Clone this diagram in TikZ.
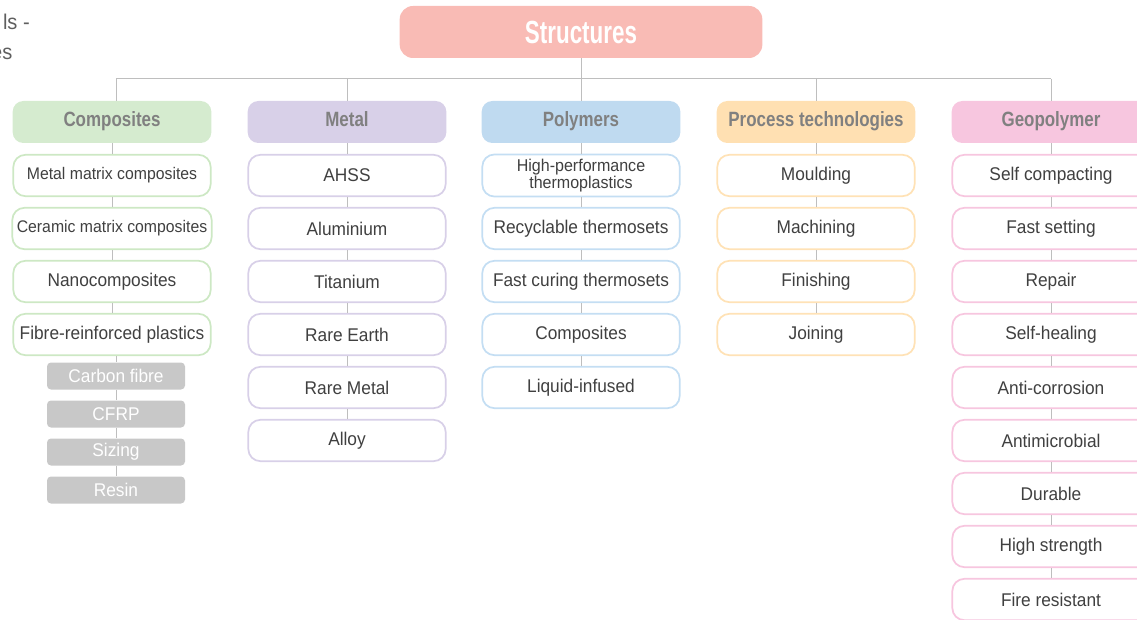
\documentclass[tikz,border=0pt]{standalone}
\usepackage{fontspec}
\setmainfont[FakeStretch=0.94]{Liberation Sans}
\newfontfamily\hdrfont[FakeStretch=0.82]{Liberation Sans}
\newfontfamily\rootfont[FakeStretch=0.7]{Liberation Sans}
\usepackage{tikz}

\definecolor{rootfill}{RGB}{249,187,181}
\definecolor{compfill}{RGB}{213,235,207}
\definecolor{compline}{RGB}{205,232,196}
\definecolor{metfill}{RGB}{216,208,232}
\definecolor{metline}{RGB}{216,208,232}
\definecolor{polfill}{RGB}{191,218,240}
\definecolor{polline}{RGB}{196,222,243}
\definecolor{procfill}{RGB}{255,224,178}
\definecolor{procline}{RGB}{255,226,182}
\definecolor{geofill}{RGB}{247,198,223}
\definecolor{geoline}{RGB}{247,198,223}
\definecolor{hdrtext}{RGB}{128,128,128}
\definecolor{itmtext}{RGB}{64,64,64}
\definecolor{titletext}{RGB}{95,95,95}
\definecolor{subfill}{RGB}{200,200,200}
\definecolor{linkgray}{RGB}{190,190,190}

\begin{document}
\begin{tikzpicture}[x=0.75pt,y=0.75pt,yscale=-1,xscale=1,
  root/.style={fill=rootfill,rounded corners=10pt,minimum width=272pt,minimum height=39pt,
    text=white,font=\rootfont\fontsize{24}{26}\selectfont\bfseries},
  hdr/.style={fill=#1,rounded corners=8pt,minimum width=149pt,minimum height=31.5pt,
    text height=0.74em,text depth=0.02em,
    text=hdrtext,font=\hdrfont\fontsize{15.5}{17}\selectfont\bfseries},
  itm/.style={draw=#1,fill=white,line width=1.3pt,rounded corners=9pt,minimum width=148pt,
    minimum height=31pt,text=itmtext,font=\fontsize{13.8}{15}\selectfont,align=center},
  sub/.style={fill=subfill,rounded corners=3pt,minimum width=103.5pt,minimum height=20.25pt,
    text=white,font=\fontsize{13.8}{15}\selectfont},
  link/.style={draw=linkgray,line width=0.75pt}]
\useasboundingbox (0,0) rectangle (1137,620);

% Title (cut off at the left edge)
\node (title) [anchor=north east,align=right,text=titletext,inner sep=0pt,
  font=\fontsize{16}{22.5}\selectfont] at (30,14) {ls -\\es\hspace*{13pt}};

% Root
\node (root) [root] at (581,32) {Structures};

% Column headers
\node (comp) [hdr=compfill] at (112,122) {Composites};
\node (met) [hdr=metfill] at (347,122) {Metal};
\node (pol) [hdr=polfill] at (581,122) {Polymers};
\node (proc) [hdr=procfill] at (816,122) {Process technologies};
\node (geo) [hdr=geofill] at (1051,122) {Geopolymer};

% Branch line
\coordinate (bus) at (581,79);
\coordinate (busl) at (116,79);
\coordinate (busr) at (1051,79);
\draw [link] (root.south) -- (bus);
\draw [link] (busl) -- (busr);
\draw [link] (busl) -- (busl |- comp.north);
\draw [link] (met.north |- bus) -- (met.north);
\draw [link] (bus) -- (pol.north);
\draw [link] (proc.north |- bus) -- (proc.north);
\draw [link] (busr) -- (geo.north);

% Composites
\node (comp1) [itm=compline,font=\fontsize{12.6}{13}\selectfont] at (112,175.5) {Metal matrix composites};
\node (comp2) [itm=compline,font=\fontsize{12.6}{13}\selectfont] at (112,228.5) {Ceramic matrix composites};
\node (comp3) [itm=compline] at (112,281.5) {Nanocomposites};
\node (comp4) [itm=compline] at (112,334.5) {Fibre-reinforced plastics};
\node (cf1) [sub] at (116,376) {Carbon fibre};
\node (cf2) [sub] at (116,414) {CFRP};
\node (cf3) [sub] at (116,452) {Sizing};
\node (cf4) [sub] at (116,490) {Resin};

% Metal
\node (met1) [itm=metline] at (347,175.5) {AHSS};
\node (met2) [itm=metline] at (347,228.5) {Aluminium};
\node (met3) [itm=metline] at (347,281.5) {Titanium};
\node (met4) [itm=metline] at (347,334.5) {Rare Earth};
\node (met5) [itm=metline] at (347,387.5) {Rare Metal};
\node (met6) [itm=metline] at (347,440.5) {Alloy};

% Polymers
\node (pol1) [itm=polline,font=\fontsize{12.8}{11.5}\selectfont] at (581,175.5) {High-performance\\thermoplastics};
\node (pol2) [itm=polline] at (581,228.5) {Recyclable thermosets};
\node (pol3) [itm=polline] at (581,281.5) {Fast curing thermosets};
\node (pol4) [itm=polline] at (581,334.5) {Composites};
\node (pol5) [itm=polline] at (581,387.5) {Liquid-infused};

% Process technologies
\node (proc1) [itm=procline] at (816,175.5) {Moulding};
\node (proc2) [itm=procline] at (816,228.5) {Machining};
\node (proc3) [itm=procline] at (816,281.5) {Finishing};
\node (proc4) [itm=procline] at (816,334.5) {Joining};

% Geopolymer
\node (geo1) [itm=geoline] at (1051,175.5) {Self compacting};
\node (geo2) [itm=geoline] at (1051,228.5) {Fast setting};
\node (geo3) [itm=geoline] at (1051,281.5) {Repair};
\node (geo4) [itm=geoline] at (1051,334.5) {Self-healing};
\node (geo5) [itm=geoline] at (1051,387.5) {Anti-corrosion};
\node (geo6) [itm=geoline] at (1051,440.5) {Antimicrobial};
\node (geo7) [itm=geoline] at (1051,493.5) {Durable};
\node (geo8) [itm=geoline] at (1051,546.5) {High strength};
\node (geo9) [itm=geoline] at (1051,599.5) {Fire resistant};

% Column links
\draw [link] (comp) -- (comp1);
\draw [link] (comp1) -- (comp2);
\draw [link] (comp2) -- (comp3);
\draw [link] (comp3) -- (comp4);
\draw [link] (cf1.north |- comp4.south) -- (cf1);
\draw [link] (cf1) -- (cf2);
\draw [link] (cf2) -- (cf3);
\draw [link] (cf3) -- (cf4);
\draw [link] (met) -- (met1);
\draw [link] (met1) -- (met2);
\draw [link] (met2) -- (met3);
\draw [link] (met3) -- (met4);
\draw [link] (met4) -- (met5);
\draw [link] (met5) -- (met6);
\draw [link] (pol) -- (pol1);
\draw [link] (pol1) -- (pol2);
\draw [link] (pol2) -- (pol3);
\draw [link] (pol3) -- (pol4);
\draw [link] (pol4) -- (pol5);
\draw [link] (proc) -- (proc1);
\draw [link] (proc1) -- (proc2);
\draw [link] (proc2) -- (proc3);
\draw [link] (proc3) -- (proc4);
\draw [link] (geo) -- (geo1);
\draw [link] (geo1) -- (geo2);
\draw [link] (geo2) -- (geo3);
\draw [link] (geo3) -- (geo4);
\draw [link] (geo4) -- (geo5);
\draw [link] (geo5) -- (geo6);
\draw [link] (geo6) -- (geo7);
\draw [link] (geo7) -- (geo8);
\draw [link] (geo8) -- (geo9);

\end{tikzpicture}
\end{document}
